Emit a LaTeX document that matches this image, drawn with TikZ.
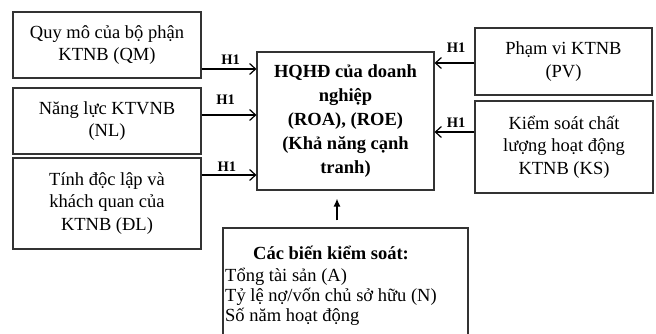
\documentclass[tikz,border=0pt]{standalone}
\usepackage{fontspec}
\setmainfont{Liberation Serif}
\usetikzlibrary{arrows.meta}
\begin{document}
\begin{tikzpicture}[x=1pt,y=-1pt,
  box/.style={draw=black!80, line width=1.1pt, align=center, inner sep=0pt,
              font=\fontsize{18.5}{22.5}\selectfont},
  boldtext/.style={font=\bfseries\fontsize{18.5}{24}\selectfont, align=center, inner sep=0pt},
  link/.style={line width=1.4pt, -{Straight Barb[length=6pt,width=11pt,line width=1.2pt]}},
  uplink/.style={line width=1.4pt, -{Latex[length=8pt,width=7pt]}},
  hlabel/.style={font=\bfseries\fontsize{14.5}{16}\selectfont, inner sep=0pt}]
\useasboundingbox (0,0) rectangle (656,334);

% left boxes
\node[box, minimum width=188pt, minimum height=66pt] (qm) at (107,45) {Quy mô của bộ phận\\KTNB (QM)};
\node[box, minimum width=188pt, minimum height=66pt] (nl) at (107,121) {Năng lực KTVNB\\(NL)};
\node[box, minimum width=188pt, minimum height=91pt] (dl) at (107,203.5) {Tính độc lập và\\khách quan của\\KTNB (ĐL)};

% centre box
\node[box, minimum width=177pt, minimum height=138pt] (hq) at (345.5,121) {};
\node[boldtext] (hqt) at (hq.center) {HQHĐ của doanh\\nghiệp\\(ROA), (ROE)\\(Khả năng cạnh\\tranh)};

% right boxes
\node[box, minimum width=177pt, minimum height=67pt] (pv) at (563.5,61.5) {Phạm vi KTNB\\(PV)};
\node[box, minimum width=178pt, minimum height=92pt] (ks) at (564,147) {Kiểm soát chất\\lượng hoạt động\\KTNB (KS)};

% control variables box
\node[box, minimum width=245pt, minimum height=117pt] (ctrl) at (345.5,286.5) {};
\node[font=\bfseries\fontsize{18.5}{20}\selectfont, inner sep=0pt, anchor=base] (ctitle) at (331,259) {Các biến kiểm soát:};
\node[font=\fontsize{18.5}{20.5}\selectfont, inner sep=0pt, anchor=base west] (cl1) at (225,281) {Tổng tài sản (A)};
\node[font=\fontsize{18.5}{20.5}\selectfont, inner sep=0pt, anchor=base west] (cl2) at (225,301) {Tỷ lệ nợ/vốn chủ sở hữu (N)};
\node[font=\fontsize{18.5}{20.5}\selectfont, inner sep=0pt, anchor=base west] (cl3) at (225,321.5) {Số năm hoạt động};

% connectors
\draw[link] ([yshift=-24pt]qm.east) coordinate (a1) -- (a1 -| hq.west)
  node[hlabel, above=4pt, pos=0.53] {H1};
\draw[link] ([yshift=6pt]nl.east) coordinate (a2) -- (a2 -| hq.west)
  node[hlabel, above=10pt, pos=0.44] {H1};
\draw[link] ([yshift=28.5pt]dl.east) coordinate (a3) -- (a3 -| hq.west)
  node[hlabel, above=3pt, pos=0.46] {H1};
\draw[link] ([yshift=-1.5pt]pv.west) coordinate (a4) -- (a4 -| hq.east)
  node[hlabel, above=10pt, pos=0.46] {H1};
\draw[link] ([yshift=15pt]ks.west) coordinate (a5) -- (a5 -| hq.east)
  node[hlabel, above=4pt, pos=0.46] {H1};
\draw[uplink, shorten <=7pt, shorten >=8pt] ([xshift=-8.5pt]ctrl.north) coordinate (a6) -- (a6 |- hq.south);
\end{tikzpicture}
\end{document}
